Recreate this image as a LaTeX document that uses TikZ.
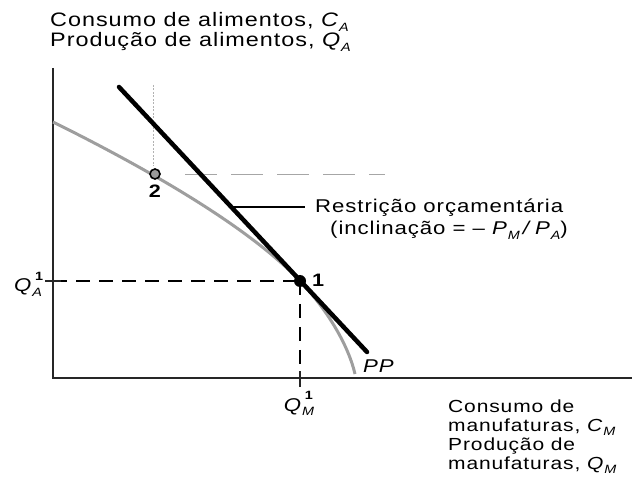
\documentclass[tikz,border=0pt]{standalone}
\usepackage{fontspec}
\setmainfont{Liberation Sans}[FakeStretch=1.2,LetterSpace=5]
\newcommand\sbx[1]{\raisebox{-0.45ex}{\fontsize{12}{12}\selectfont\itshape #1}}
\newcommand\vr[2]{\textit{#1}\sbx{#2}}
\newcommand\qsup[3]{\textit{#1}\makebox[0pt][l]{\hspace{0.15em}\raisebox{1.15ex}{\fontsize{12}{12}\selectfont\bfseries #3}}\sbx{#2}}
\begin{document}
\begin{tikzpicture}[x=1pt,y=-1pt,
  axis/.style={line width=1.4pt, draw=black!85},
  budget/.style={line width=4.5pt, line cap=round},
  ppc/.style={line width=3pt, draw=black!38},
  guide/.style={line width=1.3pt, dash pattern=on 14pt off 9pt},
  faintv/.style={line width=1pt, draw=black!30, dash pattern=on 2pt off 1.5pt},
  fainth/.style={line width=1pt, draw=black!35, dash pattern=on 32pt off 14pt},
  lbl/.style={inner sep=0pt, font=\fontsize{18.5}{20}\selectfont},
  tlbl/.style={inner sep=0pt, font=\fontsize{19.5}{20}\selectfont},
  slbl/.style={inner sep=0pt, font=\fontsize{17.5}{18}\selectfont},
  dotone/.style={circle, fill=black, inner sep=0pt, minimum size=12pt},
  dottwo/.style={circle, draw=black, line width=1.6pt, fill=black!40, inner sep=0pt, minimum size=10pt}]
\useasboundingbox (0,0) rectangle (632,478);
% axes
\coordinate (yt) at (53,68);
\coordinate (o) at (53,378);
\coordinate (xr) at (632,378);
\draw[axis] (yt) -- (o) -- (xr);
% points
\coordinate (p1) at (300,281);
\coordinate (p2) at (155,174);
% faint guides at point 2
\coordinate (fv1) at (153,85);
\coordinate (fv2) at (153,166);
\draw[faintv] (fv1) -- (fv2);
\coordinate (fh1) at (185,175);
\coordinate (fh2) at (385,175);
\draw[fainth] (fh1) -- (fh2);
% PP curve
\coordinate (p0) at (53,122);
\coordinate (pe) at (355,374);
\draw[ppc] (p0) .. controls (150,170) and (250,228) .. (p1) .. controls (322,304) and (347,340) .. (pe);
% budget line
\coordinate (b1) at (119,87);
\coordinate (b2) at (367,352);
\draw[budget] (b1) -- (b2);
% dashed guides
\coordinate (qa) at (53,281);
\coordinate (qm) at (300,378);
\draw[guide] (qa) -- (p1);
\draw[guide] (p1) -- (qm);
\coordinate (ta1) at (45,281);
\coordinate (ta2) at (61,281);
\draw[axis] (ta1) -- (ta2);
\coordinate (tm1) at (300,371);
\coordinate (tm2) at (300,387);
\draw[axis] (tm1) -- (tm2);
\node[dotone] (n1) at (p1) {};
\node[dottwo] (n2) at (p2) {};
% labels
\node[lbl, font=\fontsize{18}{20}\selectfont\bfseries, anchor=base west] (l1) at (312,287) {1};
\node[lbl, font=\fontsize{18}{20}\selectfont\bfseries, anchor=base] (l2) at (155,198) {2};
\node[lbl, anchor=base west] (pp) at (363,372) {\textit{PP}};
\node[lbl, anchor=base west] (qal) at (14,292) {\qsup{Q}{A}{1}};
\node[lbl, anchor=base] (qml) at (299,411) {\qsup{Q}{M}{1}};
\node[tlbl, anchor=base west] (ya1) at (50,27) {Consumo de alimentos, \vr{C}{A}};
\node[tlbl, anchor=base west] (ya2) at (50,47) {Produção de alimentos, \vr{Q}{A}};
\node[lbl, anchor=base west] (rt) at (315,213) {Restrição orçamentária};
\node[lbl, anchor=base west] (rt2) at (330,235) {(inclinação = – \vr{P}{M}\,\textit{/}\,\vr{P}{A})};
\coordinate (ra) at (230,207);
\coordinate (rb) at (305,207);
\draw[line width=1.3pt] (ra) -- (rb);
\node[slbl, anchor=base west] (xa1) at (448,412) {Consumo de};
\node[slbl, anchor=base west] (xa2) at (448,431) {manufaturas, \vr{C}{M}};
\node[slbl, anchor=base west] (xa3) at (448,450) {Produção de};
\node[slbl, anchor=base west] (xa4) at (448,469) {manufaturas, \vr{Q}{M}};
\end{tikzpicture}
\end{document}
